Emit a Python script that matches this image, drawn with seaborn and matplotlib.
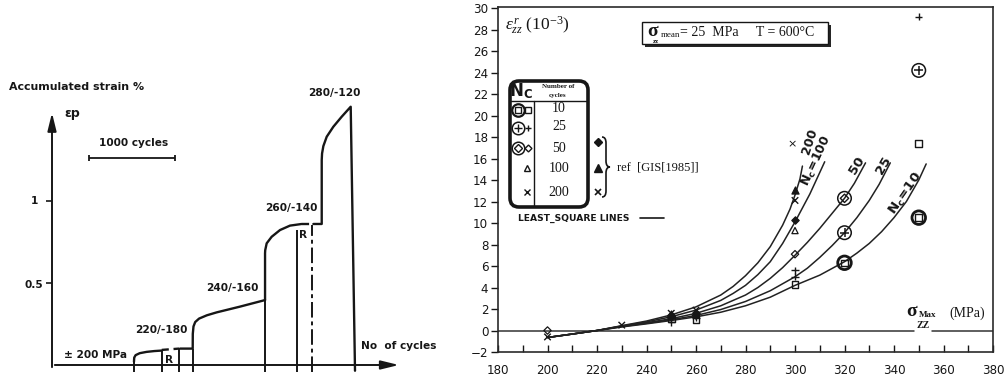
import numpy as np
import pandas as pd
import matplotlib
matplotlib.use("Agg")
import matplotlib.pyplot as plt
import seaborn as sns
from matplotlib.patches import FancyBboxPatch, Rectangle, PathPatch
from matplotlib.path import Path
from matplotlib.lines import Line2D
from matplotlib.transforms import Affine2D

# ---------------- left panel: accumulated strain history (schematic) ----------------
stage_labels = ["± 200 MPa", "220/-180", "240/-160", "260/-140", "280/-120"]

# ±200 MPa block
seg_a_cycles = [953, 956, 972, 1020, 1100, 1190, 1276]
seg_a_strain = [0.02, 0.045, 0.060, 0.072, 0.080, 0.085, 0.088]
# interruption (R) drawn dashed
gap_a_cycles = [1276, 1477]
gap_a_strain = [0.092, 0.100]
# 220/-180 plateau then 240/-160 block
seg_b_cycles = [1488, 1636, 1637, 1645, 1665, 1710, 1800, 1915, 2186, 2477]
seg_b_strain = [0.100, 0.100, 0.190, 0.235, 0.262, 0.283, 0.303, 0.321, 0.356, 0.396]
# 260/-140 block
seg_c_cycles = [2477, 2477, 2479, 2496, 2554, 2651, 2767, 2903]
seg_c_strain = [0.396, 0.681, 0.700, 0.742, 0.782, 0.823, 0.850, 0.860]
gap_c_cycles = [2903, 3027]
gap_c_strain = [0.860, 0.860]
# 280/-120 block
seg_d_cycles = [3039, 3136, 3136, 3140, 3155, 3194, 3271, 3368, 3473, 3523]
seg_d_strain = [0.860, 0.860, 1.250, 1.290, 1.335, 1.392, 1.453, 1.514, 1.575, -0.035]

# vertical markers at block changes: cycle, top strain
mark_cycles = [953, 1276, 1477, 1636, 2477, 2845]
mark_tops = [0.02, 0.090, 0.100, 0.100, 0.396, 0.823]
dashed_mark_cycle = 3027
dashed_mark_top = 0.855

# ---------------- right panel: ratcheting strain vs max stress ----------------
x_ticks = list(range(180, 381, 20))
y_ticks = list(range(-2, 31, 2))

# least-square lines, one per number of cycles
c10_x = [200, 210, 220, 230, 240, 250, 260, 270, 280, 290, 300, 310, 320, 325, 330, 335, 340, 345, 350, 353]
c10_y = [-0.65, -0.33, 0.0, 0.33, 0.62, 0.93, 1.27, 1.7, 2.3, 3.1, 4.2, 5.15, 6.4, 7.2, 8.1, 9.2, 10.5, 12.0, 14.0, 15.5]
c25_x = [200, 210, 220, 230, 240, 250, 260, 270, 280, 290, 300, 305, 310, 315, 320, 325, 330, 334, 338.5]
c25_y = [-0.65, -0.33, 0.0, 0.36, 0.67, 1.0, 1.4, 1.95, 2.7, 3.7, 5.0, 5.8, 6.8, 7.9, 9.1, 10.5, 12.1, 13.6, 15.6]
c50_x = [200, 210, 220, 230, 240, 250, 260, 270, 280, 285, 290, 295, 300, 305, 310, 315, 320, 324, 328.5]
c50_y = [-0.65, -0.33, 0.0, 0.40, 0.72, 1.1, 1.6, 2.3, 3.3, 4.0, 4.85, 5.85, 7.0, 8.2, 9.5, 10.9, 12.3, 13.7, 15.6]
c100_x = [200, 210, 220, 230, 240, 250, 260, 270, 275, 280, 285, 290, 295, 300, 303, 306, 309, 312]
c100_y = [-0.65, -0.33, 0.0, 0.42, 0.80, 1.28, 1.9, 2.8, 3.45, 4.2, 5.2, 6.4, 8.1, 10.1, 11.4, 12.7, 14.2, 15.7]
c200_x = [200, 210, 220, 230, 240, 250, 260, 270, 275, 280, 285, 290, 295, 298, 300, 302, 303]
c200_y = [-0.65, -0.33, 0.0, 0.45, 0.88, 1.45, 2.2, 3.3, 4.1, 5.1, 6.3, 7.8, 9.8, 11.3, 12.6, 14.1, 15.3]

# measured points
sq_x = [250, 260, 300, 350]
sq_y = [1.05, 1.0, 4.3, 17.4]
osq_x = [320, 350]
osq_y = [6.3, 10.5]
plus_x = [250, 260, 300, 300, 350]
plus_y = [0.8, 1.2, 5.6, 5.0, 29.2]
oplus_x = [320, 350]
oplus_y = [9.1, 24.2]
dia_x = [200, 250, 260, 300]
dia_y = [0.0, 1.25, 1.4, 7.1]
odia_x = [320]
odia_y = [12.3]
tri_x = [250, 260, 300]
tri_y = [1.4, 1.5, 9.3]
cross_x = [200, 230, 250, 260, 300]
cross_y = [-0.6, 0.5, 1.6, 1.9, 12.1]
gis_dia_x = [250, 260, 300]
gis_dia_y = [1.45, 1.6, 10.3]
gis_tri_x = [250, 300]
gis_tri_y = [1.55, 13.1]

table_rows = ["10", "25", "50", "100", "200"]

# ---------------- style ----------------
sns.set_theme(style="white")
plt.rcParams["font.family"] = ["DejaVu Sans"]
plt.rcParams["mathtext.fontset"] = "custom"
plt.rcParams["mathtext.rm"] = "Liberation Serif"
plt.rcParams["mathtext.it"] = "Liberation Serif:italic"
plt.rcParams["mathtext.bf"] = "DejaVu Sans:bold"
INK = "#161616"
SERIF = "Liberation Serif"

W, H = 1008, 378
fig = plt.figure(figsize=(W / 100, H / 100), dpi=100)
fig.patch.set_facecolor("white")
PX = Affine2D().scale(1, -1).translate(0, H)  # pixel coords, origin top-left


def ptext(x, y, s, **kw):
    kw.setdefault("color", INK)
    kw.setdefault("ha", "center")
    kw.setdefault("va", "center")
    fig.text(x, y, s, transform=PX, **kw)


def pmark(x, y, marker, ms, filled=False, mew=1.0):
    fig.add_artist(Line2D([x], [y], transform=PX, marker=marker, ms=ms, ls="none",
                          mfc=INK if filled else "none", mec=INK, mew=mew))


def pline(xs, ys, lw=1.0, **kw):
    fig.add_artist(Line2D(xs, ys, transform=PX, color=INK, lw=lw, **kw))


# ================= left panel =================
axL = fig.add_axes([52 / W, 1 - 375 / H, 418 / W, 315 / H])
axL.set_xlim(0, 4860)
axL.set_ylim(-0.061, 1.860)
axL.axis("off")

for cx, cy in [(seg_a_cycles, seg_a_strain), (seg_b_cycles, seg_b_strain),
               (seg_c_cycles, seg_c_strain), (seg_d_cycles, seg_d_strain)]:
    sns.lineplot(x=cx, y=cy, ax=axL, color=INK, lw=1.7, estimator=None, sort=False)
for cx, cy in [(gap_a_cycles, gap_a_strain), (gap_c_cycles, gap_c_strain)]:
    sns.lineplot(x=cx, y=cy, ax=axL, color=INK, lw=1.7, estimator=None, sort=False,
                 linestyle=(0, (3, 2)))

axL.vlines(mark_cycles, -0.04, mark_tops, color=INK, lw=1.4)
axL.vlines([dashed_mark_cycle], -0.04, dashed_mark_top, color=INK, lw=1.4,
           linestyles=[(0, (8, 2, 2, 2))])

# axes with arrows
axL.annotate("", xy=(4066, 0), xytext=(0, 0),
             arrowprops=dict(arrowstyle="-|>,head_length=0.9,head_width=0.22", color=INK, lw=1.4))
axL.annotate("", xy=(0, 1.555), xytext=(0, -0.03),
             arrowprops=dict(arrowstyle="-|>,head_length=0.9,head_width=0.22", color=INK, lw=1.4))
axL.hlines([1.0, 0.5], -70, 0, color=INK, lw=1.2, clip_on=False)
# 1000-cycle scale bar
axL.hlines([1.262], 430, 1430, color=INK, lw=1.3)
axL.vlines([430, 1430], 1.244, 1.280, color=INK, lw=1.3)

bold = dict(fontweight="bold", fontsize=7.6)
ptext(9, 87, "Accumulated strain %", ha="left", fontweight="bold", fontsize=7.9)
ptext(64, 113, "εp", ha="left", fontweight="bold", fontsize=9)
ptext(134, 143, "1000 cycles", **bold)
ptext(38, 201, "1", ha="right", **bold)
ptext(43, 285.5, "0.5", ha="right", **bold)
ptext(95, 355, stage_labels[0], **bold)
ptext(161, 330, stage_labels[1], **bold)
ptext(232, 288, stage_labels[2], **bold)
ptext(291.5, 208, stage_labels[3], **bold)
ptext(334, 93, stage_labels[4], **bold)
ptext(399, 346, "No  of cycles", **bold)
ptext(169.5, 360, "R", **bold)
ptext(303.5, 235, "R", **bold)

# ================= right panel =================
axR = fig.add_axes([498 / W, 1 - 352 / H, 495 / W, 345 / H])
axR.set_xlim(180, 380)
axR.set_ylim(-2, 30.1)
for sp in axR.spines.values():
    sp.set_visible(True)
    sp.set_color("#2a2a2a")
    sp.set_linewidth(1.2)
axR.set_xticks(x_ticks)
axR.set_xticks([t + 10 for t in x_ticks[:-1]], minor=True)
axR.set_yticks(y_ticks)
axR.tick_params(axis="x", which="both", direction="in", length=5, width=1.0,
                color=INK, labelsize=8.6, pad=9, labelcolor=INK, bottom=True)
axR.tick_params(axis="y", direction="out", length=5, width=1.0, color=INK,
                labelsize=8.6, pad=2, labelcolor=INK, left=True)
axR.set_xlabel("")
axR.set_ylabel("")

# zero line, broken where the ZZ subscript sits
axR.plot([180, 348], [0, 0], color="#333333", lw=1.1)
axR.plot([355.5, 380], [0, 0], color="#333333", lw=1.1)

for cx, cy in [(c10_x, c10_y), (c25_x, c25_y), (c50_x, c50_y), (c100_x, c100_y), (c200_x, c200_y)]:
    sns.lineplot(x=cx, y=cy, ax=axR, color="#222222", lw=1.1, estimator=None, sort=False)


def pts(xs, ys, marker, s, filled=False, lw=1.0):
    sns.scatterplot(x=xs, y=ys, ax=axR, marker=marker, s=s, color=INK,
                    linewidth=lw, zorder=4, legend=False)
    pc = axR.collections[-1]
    pc.set_facecolor(INK if filled else "none")
    pc.set_edgecolor(INK)
    pc.set_linewidth(lw)


# big circled symbols first, then their inner marks
pts(osq_x, osq_y, "o", 95, lw=2.0)
pts(osq_x, osq_y, "s", 22, lw=1.0)
pts(oplus_x, oplus_y, "o", 95, lw=1.1)
pts(oplus_x, oplus_y, "+", 45, lw=1.1)
pts(odia_x, odia_y, "o", 95, lw=1.1)
pts(odia_x, odia_y, "D", 18, lw=1.0)
pts(sq_x, sq_y, "s", 22, lw=1.0)
pts(plus_x, plus_y, "+", 28, lw=1.0)
pts(dia_x, dia_y, "D", 14, lw=0.9)
pts(tri_x, tri_y, "^", 20, lw=0.9)
pts(cross_x, cross_y, "x", 22, lw=1.0)
pts(gis_dia_x, gis_dia_y, "D", 14, filled=True, lw=0.9)
pts(gis_tri_x, gis_tri_y, "^", 26, filled=True, lw=0.9)

# curve labels
ptext(792.5, 144, "×", fontsize=8)
ptext(810, 141, "200", rotation=72, fontsize=9, fontweight="bold")
ptext(817, 161, r"$\mathbf{N_c\!=\!100}$", rotation=65, fontsize=9)
ptext(857, 165, "50", rotation=58, fontsize=9.5, fontweight="bold")
ptext(884, 165, "25", rotation=60, fontsize=9.5, fontweight="bold")
ptext(906, 194, r"$\mathbf{N_c\!=\!10}$", rotation=55, fontsize=9.5)

# axis titles
ptext(505, 25, r"$\varepsilon^{\,r}_{zz}\ (10^{-3})$", ha="left", fontsize=12.5)
ptext(912, 312, "σ", fontsize=14, family=SERIF, fontweight="bold")
ptext(928, 315, "Max", fontsize=6.5, family=SERIF, fontweight="bold")
ptext(967, 313, "(MPa)", fontsize=10, family=SERIF)
ptext(923, 326, "ZZ", fontsize=7, family=SERIF, fontweight="bold")

# test condition box with drop shadow
fig.add_artist(Rectangle((645, 25), 186, 22, transform=PX, facecolor="#262626",
                         edgecolor="none"))
fig.add_artist(Rectangle((642, 22), 186, 22, transform=PX, facecolor="white",
                         edgecolor=INK, lw=1.0))
ptext(653, 31, "σ", fontsize=14, family=SERIF, fontweight="bold")
ptext(656, 41.5, "zz", fontsize=5, family=SERIF, fontweight="bold")
ptext(670, 35, "mean", fontsize=6.5, family=SERIF)
ptext(680, 33, "= 25  MPa     T = 600°C", ha="left", fontsize=10, family=SERIF)

# symbol table
fig.add_artist(FancyBboxPatch((510, 81), 78, 126, transform=PX,
                              boxstyle="round,pad=0,rounding_size=9",
                              facecolor="none", edgecolor=INK, lw=2.6))
pline([511, 587], [101, 101], lw=1.0)
pline([534, 534], [101, 206], lw=1.0)
ptext(521, 91, r"$\mathbf{N}_{\mathbf{C}}$", fontsize=12)
ptext(558, 86, "Number of", fontsize=5, family=SERIF, fontweight="bold")
ptext(558, 95, "cycles", fontsize=5, family=SERIF, fontweight="bold")
row_y = [109, 127, 148, 168, 192]
for ry, txt in zip(row_y, table_rows):
    ptext(559, ry, txt, fontsize=10, family=SERIF)
pmark(518, 110, "o", 9, mew=1.6)
pmark(518, 110, "s", 4.5, mew=1.0)
pmark(527.5, 110, "s", 4.5, mew=1.0)
pmark(518, 128, "o", 9, mew=1.1)
pmark(518, 128, "+", 6, mew=1.0)
pmark(527.5, 128, "+", 5, mew=1.0)
pmark(518, 148, "o", 9, mew=1.1)
pmark(518, 148, "D", 4, mew=1.0)
pmark(527.5, 148, "D", 3.5, mew=1.0)
pmark(527, 168, "^", 4.5, mew=1.0)
pmark(527, 192, "x", 4.5, mew=1.0)

# reference data symbols with brace
pmark(598, 142, "D", 4, filled=True)
pmark(598, 168, "^", 5.5, filled=True)
pmark(598, 192, "x", 5, mew=1.2)
brace = Path([(602, 137), (606, 137), (606, 143), (606, 161), (606, 167), (610, 167),
              (606, 167), (606, 173), (606, 191), (606, 197), (602, 197)],
             [Path.MOVETO, Path.CURVE3, Path.CURVE3, Path.LINETO, Path.CURVE3, Path.CURVE3,
              Path.CURVE3, Path.CURVE3, Path.LINETO, Path.CURVE3, Path.CURVE3])
fig.add_artist(PathPatch(brace, transform=PX, facecolor="none", edgecolor=INK, lw=1.2))
ptext(617, 167, "ref  [GIS[1985]]", ha="left", fontsize=9, family=SERIF)

ptext(518, 218, "LEAST_SQUARE LINES", ha="left", fontsize=6.6, fontweight="bold")
pline([640, 664], [218, 218], lw=1.2)

fig.savefig("out.png", dpi=100, facecolor="white")
